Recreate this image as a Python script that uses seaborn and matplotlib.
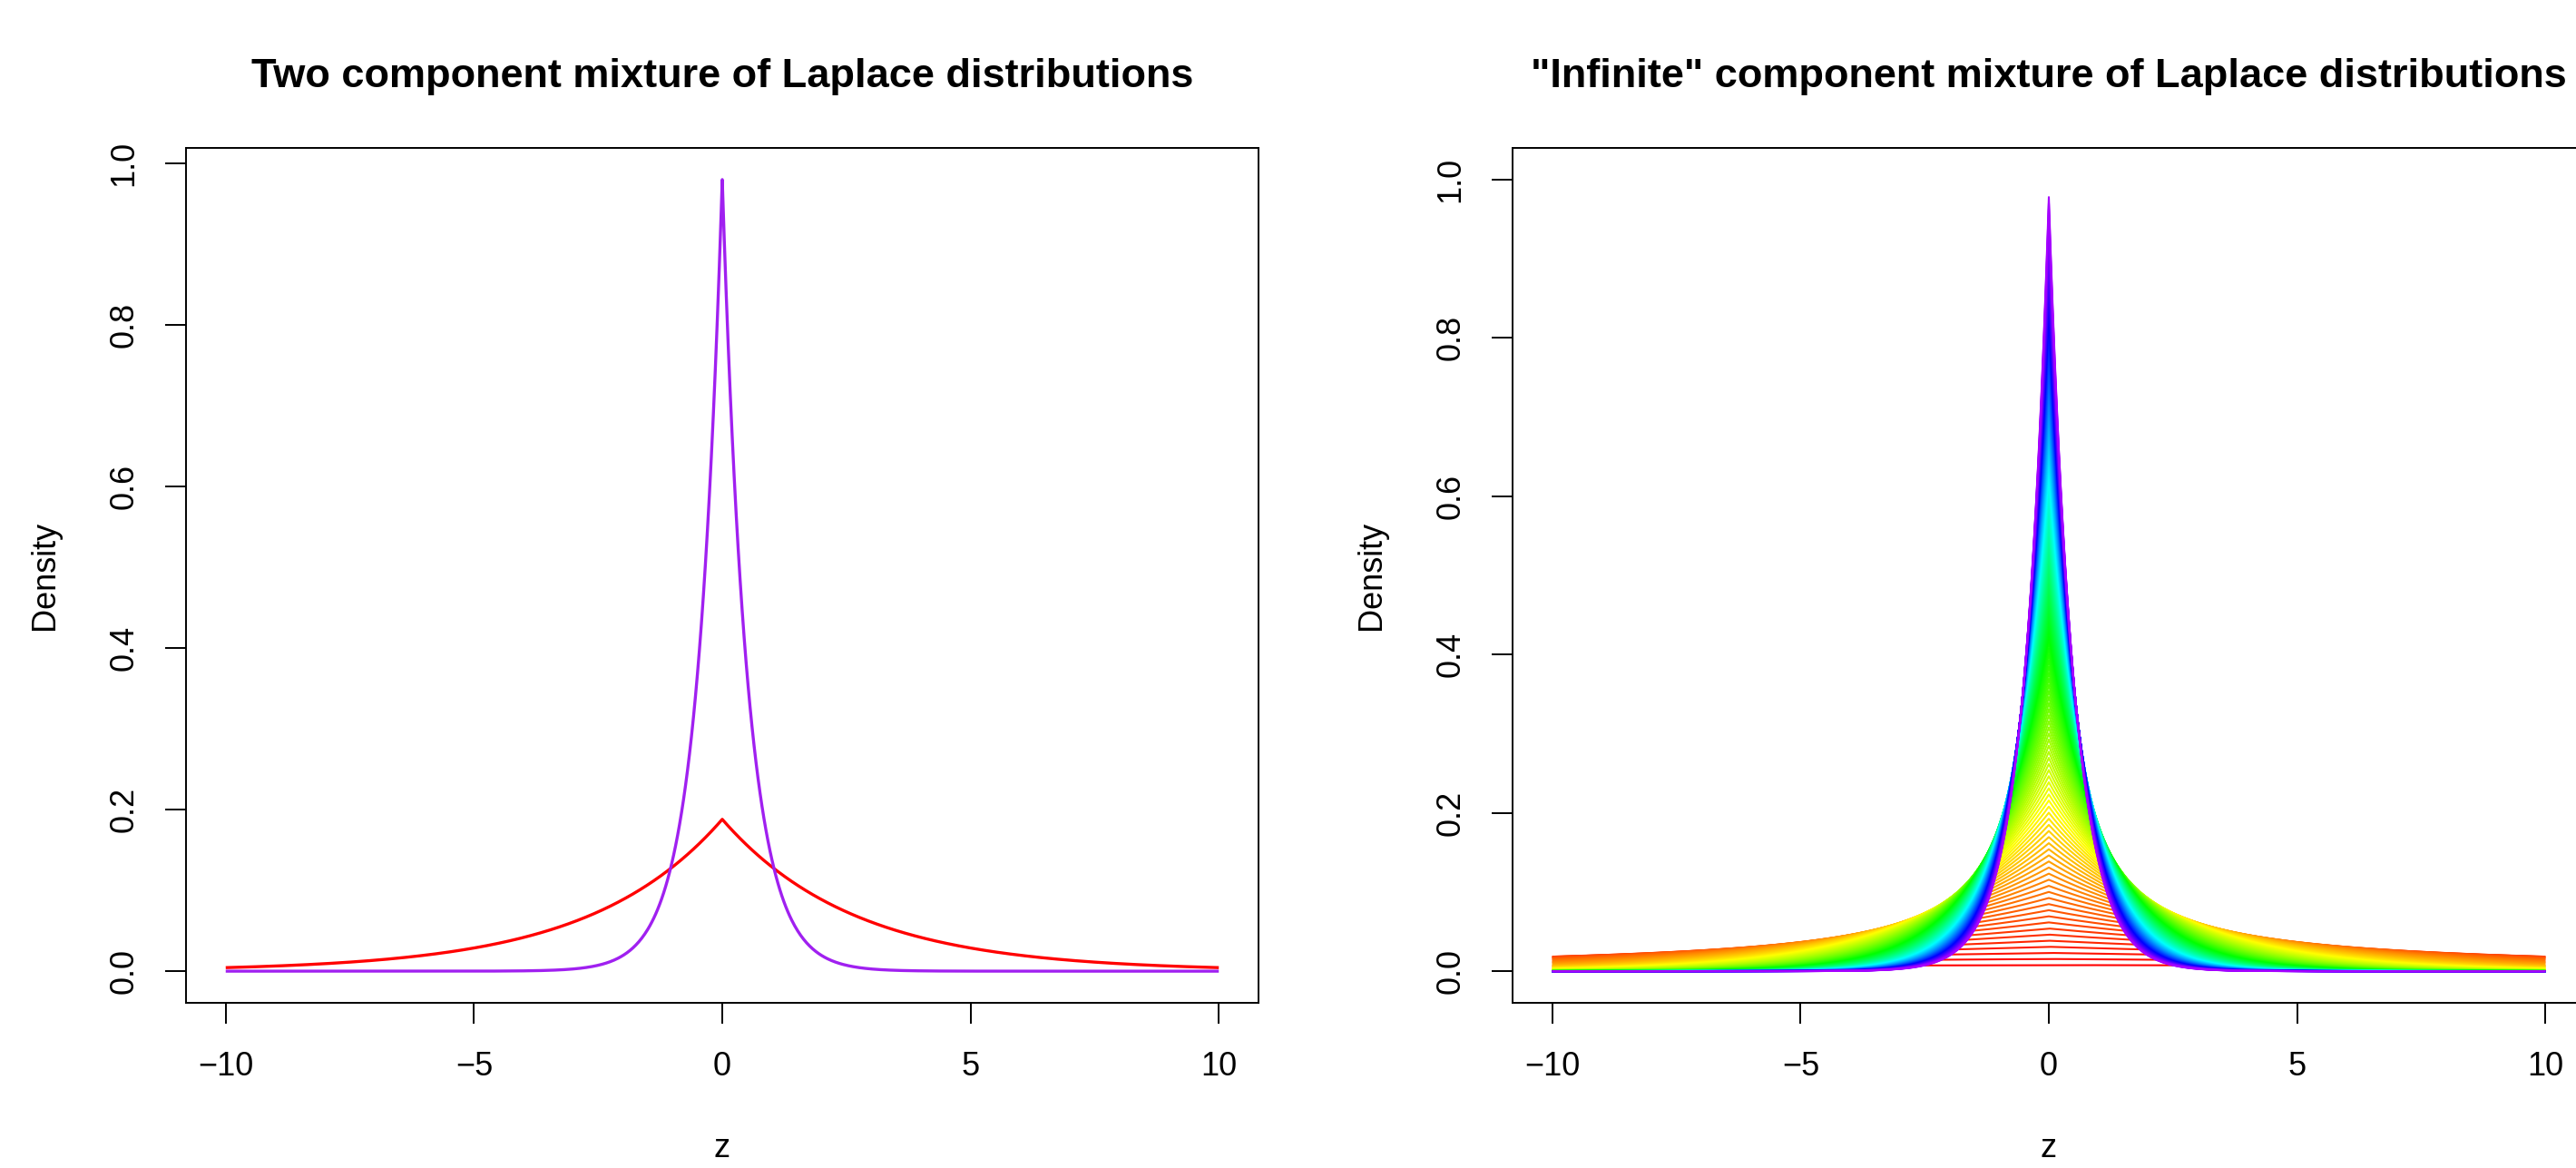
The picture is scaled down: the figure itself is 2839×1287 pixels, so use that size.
import numpy as np
import pandas as pd
import matplotlib
matplotlib.use("Agg")
import matplotlib.pyplot as plt
import matplotlib.colors as mcolors
import seaborn as sns

sns.set_theme(style="ticks")
plt.rcParams['font.family'] = ['Liberation Sans', 'DejaVu Sans']
plt.rcParams['text.color'] = 'black'
plt.rcParams['axes.labelcolor'] = 'black'

# ================= data =================
# z range of the curves
z_min, z_max = -10, 10

# left panel: peak heights of the two Laplace components (peak = 1 / (2 * scale))
left_peaks = [0.188, 0.98]
left_colors = ['#FF0000', '#A020F0']

# right panel: peak heights of the "infinite" family of Laplace densities
right_peaks = [
    0.0077, 0.0154, 0.0231, 0.0308, 0.0385, 0.0462, 0.0539, 0.0616, 0.0693, 0.0770,
    0.0847, 0.0924, 0.1001, 0.1078, 0.1155, 0.1232, 0.1309, 0.1386, 0.1463, 0.1540,
    0.1617, 0.1694, 0.1771, 0.1848, 0.1925, 0.2002, 0.2079, 0.2156, 0.2233, 0.2310,
    0.2387, 0.2464, 0.2541, 0.2618, 0.2695, 0.2772, 0.2849, 0.2926, 0.3003, 0.3080,
    0.3157, 0.3234, 0.3311, 0.3388, 0.3465, 0.3542, 0.3619, 0.3696, 0.3773, 0.3850,
    0.3927, 0.4004, 0.4081, 0.4158, 0.4235, 0.4312, 0.4389, 0.4466, 0.4543, 0.4620,
    0.4697, 0.4774, 0.4851, 0.4928, 0.5005, 0.5082, 0.5159, 0.5236, 0.5313, 0.5390,
    0.5467, 0.5544, 0.5621, 0.5698, 0.5775, 0.5852, 0.5929, 0.6006, 0.6083, 0.6160,
    0.6237, 0.6314, 0.6391, 0.6468, 0.6545, 0.6622, 0.6699, 0.6776, 0.6853, 0.6930,
    0.7007, 0.7084, 0.7161, 0.7238, 0.7315, 0.7392, 0.7469, 0.7546, 0.7623, 0.7700,
    0.7777, 0.7854, 0.7931, 0.8008, 0.8085, 0.8162, 0.8239, 0.8316, 0.8393, 0.8470,
    0.8547, 0.8624, 0.8701, 0.8778, 0.8855, 0.8932, 0.9009, 0.9086, 0.9163, 0.9240,
    0.9317, 0.9394, 0.9471, 0.9548, 0.9625, 0.9702, 0.9779,
]
rainbow_end_hue = 0.775  # red -> ... -> purple

x_ticks = [-10, -5, 0, 5, 10]
y_ticks = [0.0, 0.2, 0.4, 0.6, 0.8, 1.0]
y_tick_labels = ['0.0', '0.2', '0.4', '0.6', '0.8', '1.0']

left_title = 'Two component mixture of Laplace distributions'
right_title = '"Infinite" component mixture of Laplace distributions'
# =========================================

z = np.linspace(z_min, z_max, 1001)


def laplace_frame(peaks):
    # Laplace density with location 0: f(z) = h * exp(-2 h |z|), h = peak height
    parts = []
    for i, h in enumerate(peaks):
        parts.append(pd.DataFrame({'z': z, 'density': h * np.exp(-2 * h * np.abs(z)), 'comp': i}))
    return pd.concat(parts, ignore_index=True)


df_left = laplace_frame(left_peaks)
df_right = laplace_frame(right_peaks)

n = len(right_peaks)
right_colors = [mcolors.hsv_to_rgb((rainbow_end_hue * i / (n - 1), 1.0, 1.0)) for i in range(n)]

W, H = 2839, 1287
fig = plt.figure(figsize=(W / 100, H / 100), dpi=100)
ax_w = 1182 / W
ax_h = (1105 - 163) / H
ax_b = 1 - 1105 / H
ax1 = fig.add_axes([205 / W, ax_b, ax_w, ax_h])
ax2 = fig.add_axes([1667 / W, ax_b, ax_w, ax_h])

sns.lineplot(data=df_left, x='z', y='density', hue='comp', palette=left_colors,
             estimator=None, sort=False, legend=False, linewidth=2.4, ax=ax1)
sns.lineplot(data=df_right, x='z', y='density', hue='comp', palette=right_colors,
             estimator=None, sort=False, legend=False, linewidth=1.5, ax=ax2)

for ax, title, ymax in [(ax1, left_title, max(left_peaks)), (ax2, right_title, 1.0)]:
    for line in ax.get_lines():
        line.set_solid_capstyle('butt')
    ax.set_xlim(-10.8, 10.8)
    ax.set_ylim(-0.04 * ymax, 1.04 * ymax)
    ax.set_xticks(x_ticks)
    ax.set_xticklabels([str(t).replace('-', '\u2212') for t in x_ticks])
    ax.set_yticks(y_ticks)
    ax.set_yticklabels(y_tick_labels, rotation=90, va='center')
    ax.tick_params(axis='both', direction='out', length=16.5, width=1.4,
                   labelsize=26, color='black', labelcolor='black')
    ax.tick_params(axis='x', pad=22)
    ax.tick_params(axis='y', pad=20)
    for sp in ax.spines.values():
        sp.set_visible(True)
        sp.set_color('black')
        sp.set_linewidth(1.4)
    ax.set_facecolor('white')
    ax.grid(False)
    ax.set_xlabel('z', fontsize=26, labelpad=39, color='black')
    ax.set_ylabel('Density', fontsize=26, labelpad=38, color='black')
    ax.set_title(title, fontsize=32.5, fontweight='bold', pad=48, color='black')

fig.savefig('out.png', dpi=100, facecolor='white')
